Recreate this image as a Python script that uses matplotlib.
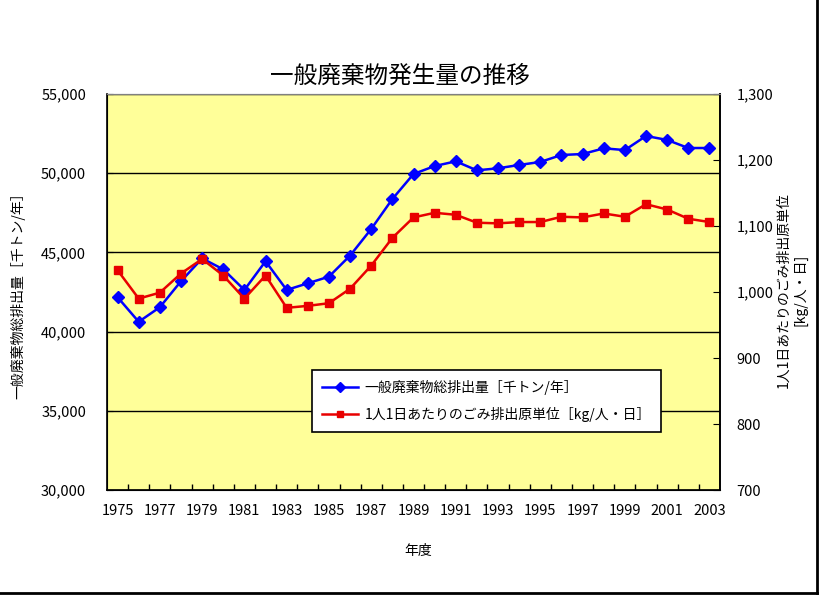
import matplotlib.pyplot as plt
from matplotlib.lines import Line2D
from matplotlib.ticker import FuncFormatter, MultipleLocator
import numpy as np

plt.rcParams["font.family"] = ["Noto Sans CJK JP", "DejaVu Sans"]

# ----------------------------------------------------------------------
# Data
# ----------------------------------------------------------------------
years = list(range(1975, 2004))

# 一般廃棄物総排出量 [千トン/年]
total = [42170, 40620, 41540, 43180, 44620, 43930, 42630, 44440, 42630,
         43050, 43470, 44800, 46480, 48370, 49950, 50450, 50750, 50180,
         50310, 50520, 50710, 51150, 51210, 51570, 51460, 52350, 52100,
         51590, 51590]

# 1人1日あたりのごみ排出原単位 [kg/人・日] (axis shown in g)
per_capita = [1033, 990, 999, 1028, 1050, 1025, 990, 1025, 976, 979,
              983, 1005, 1040, 1082, 1113, 1120, 1117, 1105, 1104, 1106,
              1106, 1114, 1113, 1119, 1114, 1133, 1125, 1111, 1106]

title = "一般廃棄物発生量の推移"
label_total = "一般廃棄物総排出量［千トン/年］"
label_pc = "1人1日あたりのごみ排出原単位［kg/人・日］"
ylabel_left = "一般廃棄物総排出量［千トン/年］"
ylabel_right = "1人1日あたりのごみ排出原単位\n[kg/人・日]"
xlabel = "年度"

BLUE = "#0000FF"
RED = "#E80000"
PLOT_BG = "#FFFF99"

comma = FuncFormatter(lambda v, _: f"{v:,.0f}")

fig = plt.figure(figsize=(8.19, 5.95), dpi=100)
ax = fig.add_axes([107 / 819, 1 - 490 / 595, 613 / 819, 396 / 595])
ax.set_facecolor(PLOT_BG)

x = np.arange(len(years))
ax.plot(x, total, color=BLUE, lw=1.8, marker="D", ms=6.5, zorder=3)
ax.set_xlim(-0.5, len(years) - 0.5)
ax.set_ylim(30000, 55000)
ax.yaxis.set_major_locator(MultipleLocator(5000))
ax.yaxis.set_major_formatter(comma)
ax.grid(axis="y", color="black", lw=1.0)
ax.set_axisbelow(True)

# category labels every other year, tick marks between categories
ax.set_xticks(x[::2])
ax.set_xticklabels([str(y) for y in years[::2]])
ax.set_xticks(np.arange(0.5, len(years) - 0.5), minor=True)
ax.tick_params(axis="x", which="major", length=0, pad=10, labelsize=10.5)
ax.tick_params(axis="x", which="minor", direction="in", length=4, width=1)
ax.tick_params(axis="y", direction="in", length=4, labelsize=10.5, pad=15)

for side in ("left", "bottom", "right"):
    ax.spines[side].set_color("black")
    ax.spines[side].set_linewidth(1.2)
ax.spines["top"].set_color("#808080")

ax2 = ax.twinx()
ax2.plot(x, per_capita, color=RED, lw=1.8, marker="s", ms=6, zorder=3)
ax2.set_ylim(700, 1300)
ax2.yaxis.set_major_locator(MultipleLocator(100))
ax2.yaxis.set_major_formatter(comma)
ax2.tick_params(axis="y", direction="in", length=5, labelsize=10.5, pad=12)
ax2.spines["right"].set_linewidth(1.2)
ax2.spines["top"].set_color("#808080")

fig.text(400 / 819, 1 - 76 / 595, title, ha="center", va="center", fontsize=17)
fig.text(18 / 819, 1 - 292 / 595, ylabel_left, rotation=90,
         ha="center", va="center", fontsize=10)
fig.text(792 / 819, 1 - 290 / 595, ylabel_right, rotation=90,
         ha="center", va="center", fontsize=10, linespacing=1.3)
fig.text(418 / 819, 1 - 551 / 595, xlabel, ha="center", va="center", fontsize=10)

handles = [
    Line2D([], [], color=BLUE, lw=1.8, marker="D", ms=5),
    Line2D([], [], color=RED, lw=1.8, marker="s", ms=5),
]
leg = fig.legend(handles, [label_total, label_pc], loc="upper left",
                 bbox_to_anchor=(312 / 819, 1 - 370 / 595),
                 bbox_transform=fig.transFigure, fontsize=10,
                 frameon=True, fancybox=False, framealpha=1,
                 edgecolor="black", borderaxespad=0, handlelength=2.6,
                 labelspacing=0.9, borderpad=0.7, handletextpad=0.5)
leg.get_frame().set_linewidth(1.2)

# black edge on right and bottom of the chart area
fig.add_artist(Line2D([0.9975, 0.9975], [0.003, 1.0], color="black", lw=2,
                      transform=fig.transFigure))
fig.add_artist(Line2D([0.0, 0.9975], [0.003, 0.003], color="black", lw=2,
                      transform=fig.transFigure))

fig.savefig("out.png", dpi=100)
